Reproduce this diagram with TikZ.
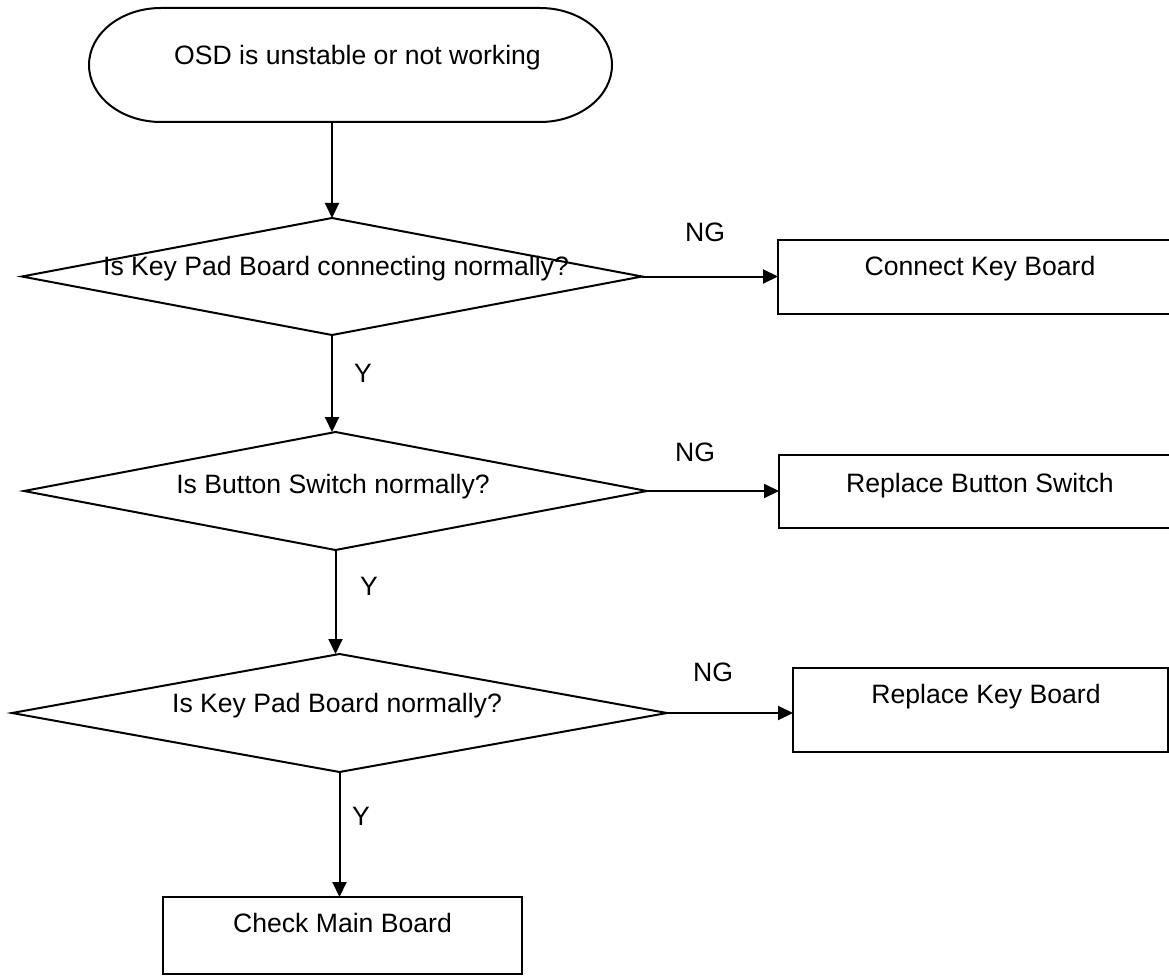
\documentclass[tikz,border=0pt]{standalone}
\usepackage{fontspec}
\setmainfont{Liberation Sans}
\usetikzlibrary{shapes.geometric,arrows.meta}
\begin{document}
\begin{tikzpicture}[x=1pt,y=-1pt,
  every node/.style={inner sep=0pt, outer sep=0pt},
  ln/.style={line width=2pt},
  dia/.style={diamond, draw, line width=2pt, aspect=5.3},
  boxn/.style={rectangle, draw, line width=2pt, anchor=north west},
  txt/.style={anchor=base, font=\fontsize{26.6}{32}\selectfont},
  arr/.style={line width=2pt, -{Triangle[length=15pt,width=14pt]}},
]
\useasboundingbox (0,0) rectangle (1169,976);
\clip (0,0) rectangle (1169,976);
\fill[white] (0,0) rectangle (1169,976);

% start terminal
\node[minimum width=523, minimum height=114] (term) at (350.5,65) {};
\draw[ln] (161,8) -- (540,8)
  .. controls (579.8,8) and (612,33.5) .. (612,65)
  .. controls (612,96.5) and (579.8,122) .. (540,122)
  -- (161,122)
  .. controls (121.2,122) and (89,96.5) .. (89,65)
  .. controls (89,33.5) and (121.2,8) .. (161,8) -- cycle;
\node[txt] (tterm) at (357.5,65) {OSD is unstable or not working};

% decisions
\node[dia, minimum width=620, minimum height=117] (d1) at (332,276.5) {};
\node[dia, minimum width=623, minimum height=118] (d2) at (335.5,491) {};
\node[dia, minimum width=655, minimum height=118] (d3) at (339.5,713) {};
\node[txt] (t1) at (336,276) {Is Key Pad Board connecting normally?};
\node[txt] (t2) at (333,493) {Is Button Switch normally?};
\node[txt] (t3) at (337,712) {Is Key Pad Board normally?};

% boxes
\node[boxn, minimum width=400, minimum height=74] (b1) at (778,240) {};
\node[boxn, minimum width=400, minimum height=73] (b2) at (779,455) {};
\node[boxn, minimum width=375, minimum height=84] (b3) at (793,668) {};
\node[boxn, minimum width=359, minimum height=77] (b4) at (163,897) {};
\node[txt] (tb1) at (980,275) {Connect Key Board};
\node[txt] (tb2) at (980,492) {Replace Button Switch};
\node[txt] (tb3) at (986,703) {Replace Key Board};
\node[txt] (tb4) at (342.5,932) {Check Main Board};

% labels
\node[txt] (ng1) at (705,242) {NG};
\node[txt] (ng2) at (695,461) {NG};
\node[txt] (ng3) at (713,681) {NG};
\node[txt] (y1) at (363,382) {Y};
\node[txt] (y2) at (369,595) {Y};
\node[txt] (y3) at (361,825) {Y};

% connectors
\draw[arr] (d1.north |- term.south) -- (d1.north);
\draw[arr] (d1.south) -- (d1.south |- d2.north);
\draw[arr] (d2.south) -- (d2.south |- d3.north);
\draw[arr] (d3.south) -- (d3.south |- b4.north);
\draw[arr] (d1.east) -- (d1.east -| b1.west);
\draw[arr] (d2.east) -- (d2.east -| b2.west);
\draw[arr] (d3.east) -- (d3.east -| b3.west);
\end{tikzpicture}
\end{document}
